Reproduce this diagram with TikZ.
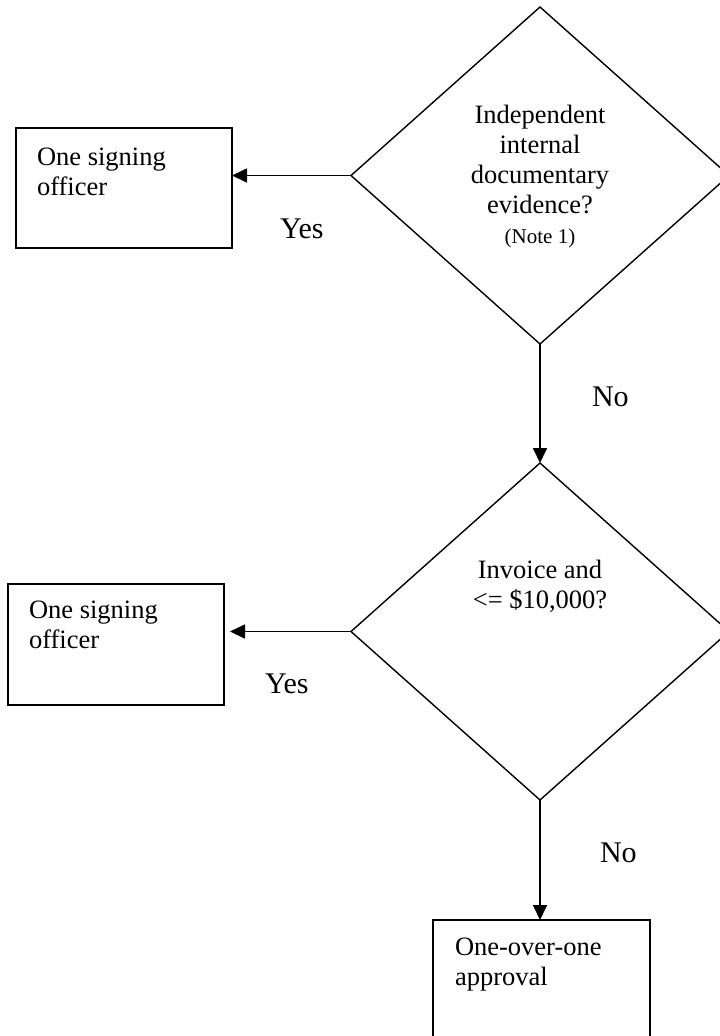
\documentclass[tikz,border=0pt]{standalone}
\usepackage{fontspec}
\setmainfont{Liberation Serif}
\usetikzlibrary{shapes.geometric,arrows.meta}
\begin{document}
\begin{tikzpicture}[x=1pt,y=-1pt,
  line width=1.4pt,
  decision/.style={draw, diamond, minimum width=378pt, minimum height=337pt, inner sep=0pt, outer sep=0pt},
  stepbox/.style={draw, rectangle, inner sep=0pt, outer sep=0pt},
  body/.style={inner sep=0pt, outer sep=0pt, font=\fontsize{26.5}{30}\selectfont},
  small/.style={inner sep=0pt, outer sep=0pt, font=\fontsize{21}{25}\selectfont},
  answer/.style={inner sep=0pt, outer sep=0pt, font=\fontsize{30}{34}\selectfont},
  flow/.style={line width=1.7pt, -{Triangle[length=15pt,width=14pt]}}]
\useasboundingbox (0,0) rectangle (720,1036);
\clip (0,0) rectangle (720,1036);
\fill[white] (0,0) rectangle (720,1036);

% shapes
\node[decision] (d1) at (540,175.5) {};
\node[decision] (d2) at (540,631.5) {};
\node[stepbox, minimum width=216pt, minimum height=120pt] (b1) at (124,188) {};
\node[stepbox, minimum width=216pt, minimum height=121pt] (b2) at (116,644.5) {};
\node[stepbox, minimum width=217pt, minimum height=200pt] (b3) at (541.5,1020) {};

% texts
\node[body, anchor=base] (t1) at (540,123) {\parbox[t]{300pt}{\centering Independent\\internal\\documentary\\evidence?}};
\node[small, anchor=base] (n1) at (540,243) {(Note 1)};
\node[body, anchor=base] (t2) at (540,578) {\parbox[t]{300pt}{\centering Invoice and\\<= \$10,000?}};
\node[body, anchor=base west] (tb1) at (37,165) {\parbox[t]{190pt}{\raggedright One signing\\officer}};
\node[body, anchor=base west] (tb2) at (29,618) {\parbox[t]{190pt}{\raggedright One signing\\officer}};
\node[body, anchor=base west] (tb3) at (455,955) {\parbox[t]{190pt}{\raggedright One-over-one\\approval}};

% answers (their text frames cut them off just below the baseline)
\begin{scope}
  \clip (250,190) rectangle (350,238.5);
  \node[answer, anchor=base west] (y1) at (280,238) {Yes};
\end{scope}
\begin{scope}
  \clip (240,645) rectangle (340,693.5);
  \node[answer, anchor=base west] (y2) at (265,693) {Yes};
\end{scope}
\begin{scope}
  \clip (570,360) rectangle (680,406.5);
  \node[answer, anchor=base west] (no1) at (592,406) {No};
\end{scope}
\begin{scope}
  \clip (580,815) rectangle (690,862.5);
  \node[answer, anchor=base west] (no2) at (600,862) {No};
\end{scope}

% connectors
\draw[flow] (d1.west) -- (d1.west -| b1.east);
\draw[flow] (d2.west) -- ([xshift=6pt]d2.west -| b2.east);
\draw[flow] (d1.south) -- (d2.north);
\draw[flow] (d2.south) -- (d2.south |- b3.north);
\end{tikzpicture}
\end{document}
